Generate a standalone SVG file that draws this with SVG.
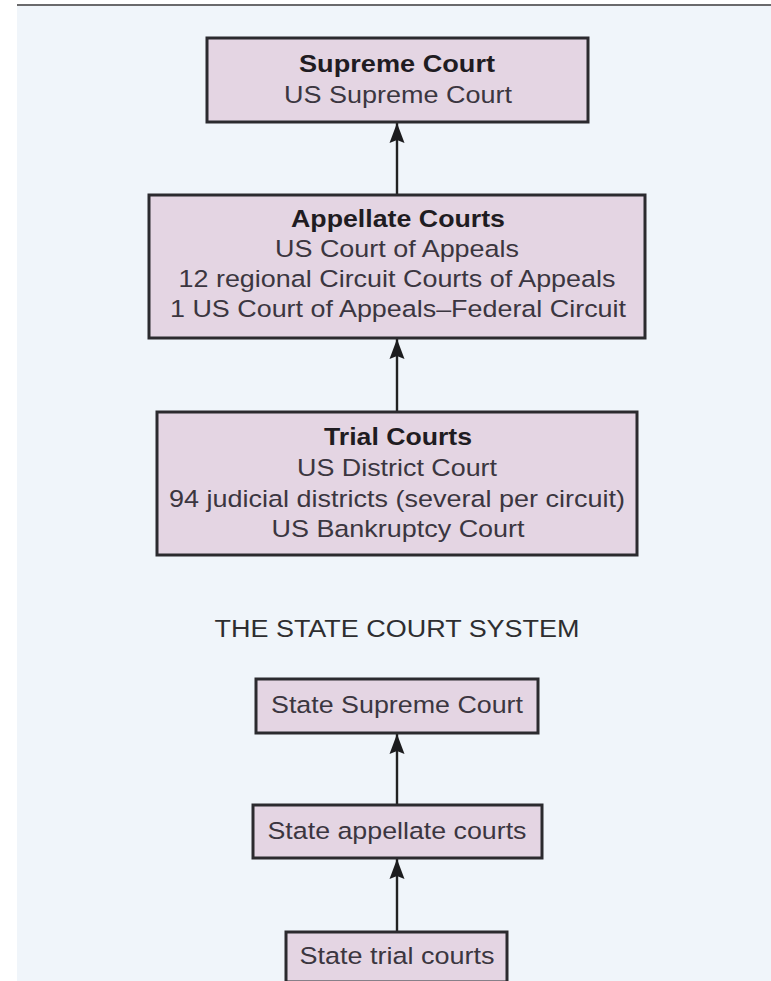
<svg xmlns="http://www.w3.org/2000/svg" width="771" height="981" viewBox="0 0 771 981">
<defs>
<style>
.box{fill:#e4d5e3;stroke:#2b2a2e;stroke-width:3}
.t{font-family:"Liberation Sans",Arial,sans-serif;font-size:24.5px;text-anchor:middle;fill:#3b3640}
.b{font-weight:bold;fill:#1f1c22}
.title{font-family:"Liberation Sans",Arial,sans-serif;font-size:24.5px;text-anchor:middle;fill:#2e2e30}
.conn{stroke:#222;stroke-width:2.4;fill:none}
</style>
<marker id="ah" viewBox="0 0 20 16" refX="20" refY="8" markerWidth="20" markerHeight="16" markerUnits="userSpaceOnUse" orient="auto">
<path d="M0,0.5 L20,8 L0,15.5 L3,8 Z" fill="#1c1c1e"/>
</marker>
</defs>
<rect x="0" y="0" width="771" height="981" fill="#ffffff"/>
<rect x="17" y="5" width="754" height="976" fill="#f0f5fa"/>
<line x1="17" y1="5" x2="771" y2="5" stroke="#6a6a6c" stroke-width="2"/>

<g id="connectors">
<line class="conn" x1="397" y1="195" x2="397" y2="123" marker-end="url(#ah)"/>
<line class="conn" x1="397" y1="412" x2="397" y2="339" marker-end="url(#ah)"/>
<line class="conn" x1="397" y1="805" x2="397" y2="734" marker-end="url(#ah)"/>
<line class="conn" x1="397" y1="932" x2="397" y2="859" marker-end="url(#ah)"/>
</g>

<g id="supreme">
<rect class="box" x="207" y="38" width="381" height="84"/>
<text class="t b" x="397" y="72" textLength="196" lengthAdjust="spacingAndGlyphs">Supreme Court</text>
<text class="t" x="398" y="103" textLength="228" lengthAdjust="spacingAndGlyphs">US Supreme Court</text>
</g>

<g id="appellate">
<rect class="box" x="149" y="195" width="496" height="143"/>
<text class="t b" x="398" y="227" textLength="214" lengthAdjust="spacingAndGlyphs">Appellate Courts</text>
<text class="t" x="397" y="257" textLength="244" lengthAdjust="spacingAndGlyphs">US Court of Appeals</text>
<text class="t" x="397" y="287" textLength="437" lengthAdjust="spacingAndGlyphs">12 regional Circuit Courts of Appeals</text>
<text class="t" x="398" y="317" textLength="456" lengthAdjust="spacingAndGlyphs">1 US Court of Appeals–Federal Circuit</text>
</g>

<g id="trial">
<rect class="box" x="157" y="412" width="480" height="143"/>
<text class="t b" x="398" y="445" textLength="148" lengthAdjust="spacingAndGlyphs">Trial Courts</text>
<text class="t" x="397" y="476" textLength="200" lengthAdjust="spacingAndGlyphs">US District Court</text>
<text class="t" x="397" y="507" textLength="456" lengthAdjust="spacingAndGlyphs">94 judicial districts (several per circuit)</text>
<text class="t" x="398" y="537" textLength="253" lengthAdjust="spacingAndGlyphs">US Bankruptcy Court</text>
</g>

<text class="title" x="397" y="637" textLength="365" lengthAdjust="spacingAndGlyphs">THE STATE COURT SYSTEM</text>

<g id="state-supreme">
<rect class="box" x="256" y="679" width="282" height="54"/>
<text class="t" x="397" y="713" textLength="252" lengthAdjust="spacingAndGlyphs">State Supreme Court</text>
</g>

<g id="state-appellate">
<rect class="box" x="253" y="805" width="289" height="53"/>
<text class="t" x="397" y="839" textLength="259" lengthAdjust="spacingAndGlyphs">State appellate courts</text>
</g>

<g id="state-trial">
<rect class="box" x="286" y="932" width="221" height="50"/>
<text class="t" x="397" y="964" textLength="195" lengthAdjust="spacingAndGlyphs">State trial courts</text>
</g>
</svg>
